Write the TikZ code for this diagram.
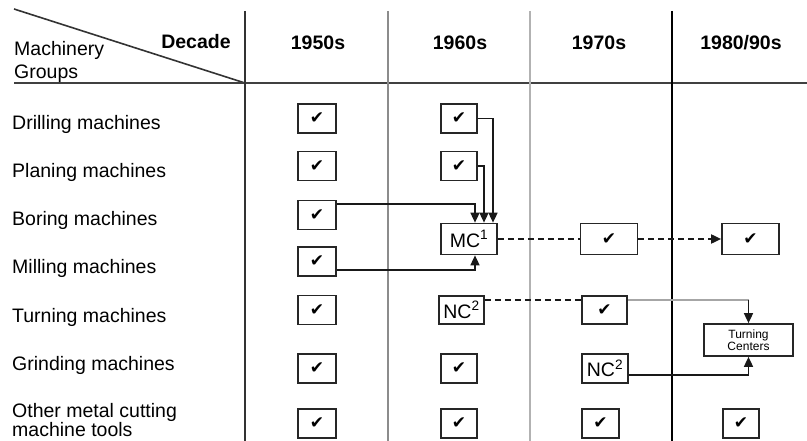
\documentclass[tikz,border=0pt]{standalone}
\usepackage{fontspec}
\setmainfont{Liberation Sans}
\newfontfamily\symfont{DejaVu Sans}
\usetikzlibrary{arrows.meta}
\begin{document}
\begin{tikzpicture}[x=1pt,y=-1pt,
  chk/.style={draw=black!85, line width=1.7pt, minimum width=38pt, minimum height=29pt, inner sep=0pt,
    font=\symfont\fontsize{17}{17}\selectfont},
  txtbox/.style={draw=black!85, line width=1.7pt, inner sep=0pt, font=\fontsize{19.5}{22}\selectfont},
  lbl/.style={anchor=base west, inner sep=0pt, font=\fontsize{19.5}{22.5}\selectfont},
  hdr/.style={anchor=base, inner sep=0pt, font=\bfseries\fontsize{19.5}{22.5}\selectfont},
  link/.style={line width=1.6pt, black!90},
  dlink/.style={link, line width=1.8pt, dash pattern=on 6pt off 4pt},
  tip/.style={-{Triangle[length=10pt,width=9pt]}},
  grid/.style={line width=1.8pt}
]
\useasboundingbox (0,0) rectangle (807,441);

% grid
\draw[line width=1.6pt, black!80] (14,9) -- (245,83);
\draw[line width=2.2pt, black!75] (14,83) -- (807,83);
\draw[grid, black!80] (245,11) -- (245,441);
\draw[grid, black!45] (388,11) -- (388,441);
\draw[line width=2.8pt, black!30] (530,11) -- (530,441);
\draw[grid, black] (672,11) -- (672,441);

% header
\node[lbl] (hM) at (14,55.7) {Machinery};
\node[lbl] (hG) at (14,79) {Groups};
\node[hdr] (hD) at (196,49) {Decade};
\node[hdr] (y50) at (318,50) {1950s};
\node[hdr] (y60) at (460,50) {1960s};
\node[hdr] (y70) at (599,50) {1970s};
\node[hdr] (y80) at (741,50) {1980/90s};

% row labels
\node[lbl] (rDr) at (12,129.5) {Drilling machines};
\node[lbl] (rPl) at (12,177.5) {Planing machines};
\node[lbl] (rBo) at (12,226) {Boring machines};
\node[lbl] (rMi) at (12,274) {Milling machines};
\node[lbl] (rTu) at (12,322.5) {Turning machines};
\node[lbl] (rGr) at (12,370.5) {Grinding machines};
\node[lbl] (rOt) at (12,417) {Other metal cutting};
\node[lbl] (rOt2) at (12,436.5) {machine tools};

% 1950s
\node[chk] (d50) at (317,118.5) {✔};
\node[chk] (p50) at (317,166) {✔};
\node[chk] (b50) at (317,215) {✔};
\node[chk] (m50) at (317,261.5) {✔};
\node[chk] (t50) at (317,310) {✔};
\node[chk] (g50) at (317,368.5) {✔};
\node[chk] (o50) at (317,423.5) {✔};

% 1960s
\node[chk, minimum width=36pt] (d60) at (459,118.5) {✔};
\node[chk, minimum width=36pt] (p60) at (459,166) {✔};
\node[txtbox, minimum width=56pt, minimum height=31pt] (mc) at (469,239) {MC\textsuperscript{1}};
\node[txtbox, minimum width=45pt, minimum height=28pt] (nc60) at (461.5,310) {NC\textsuperscript{2}};
\node[chk, minimum width=36pt] (g60) at (459,368.5) {✔};
\node[chk, minimum width=36pt] (o60) at (459,423.5) {✔};

% 1970s
\node[chk, minimum width=57pt, minimum height=31pt] (c70) at (609,239) {✔};
\node[chk, minimum width=45pt, minimum height=28pt] (t70) at (604.5,310) {✔};
\node[txtbox, minimum width=46pt, minimum height=29pt] (nc70) at (605,368.5) {NC\textsuperscript{2}};
\node[chk, minimum width=37pt] (o70) at (600.5,423.5) {✔};

% 1980/90s
\node[chk, minimum width=57pt, minimum height=31pt] (c80) at (750.5,239) {✔};
\node[draw=black!85, line width=1.7pt, inner sep=0pt, minimum width=89pt, minimum height=32pt, align=center,
  font=\fontsize{12}{12.5}\selectfont] (tc) at (748.5,340) {Turning\\Centers};
\node[chk, minimum width=36pt] (o80) at (741,423.5) {✔};

% connectors into MC
\draw[link, tip] (d60.east) -| ([xshift=24pt]mc.north);
\draw[link, tip] (p60.east) -| ([xshift=15pt]mc.north);
\draw[link, tip] ([yshift=11pt]b50.east) -| ([xshift=6pt]mc.north);
\draw[link, tip] ([yshift=-8.5pt]m50.east) -| ([xshift=6pt]mc.south);

% MC chain
\draw[dlink] (mc.east) -- (c70.west);
\draw[dlink, tip] (c70.east) -- (c80.west);

% NC turning chain
\draw[dlink] ([yshift=10pt]nc60.east) -- ([yshift=10pt]t70.west);
\coordinate (t70o) at ([yshift=10pt]t70.east);
\coordinate (tck) at (tc.north |- t70o);
\draw[line width=1.6pt, black!35] (t70o) -- (tck);
\draw[link, tip] (tck) -- (tc.north);
\draw[link, tip] ([yshift=-6.5pt]nc70.east) -| (tc.south);

\end{tikzpicture}
\end{document}
